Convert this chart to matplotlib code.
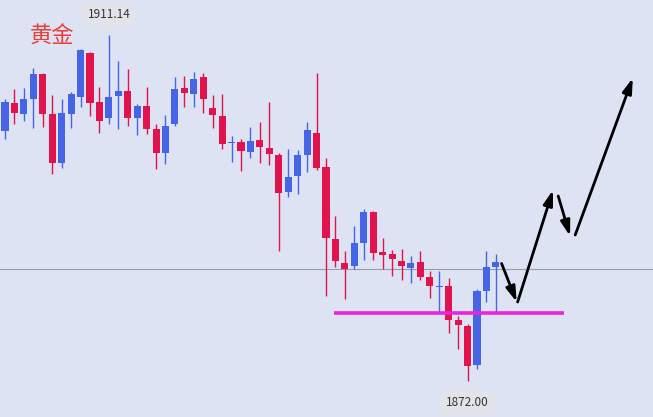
import matplotlib
matplotlib.use("Agg")
import matplotlib.pyplot as plt
import numpy as np

plt.rcParams['font.family'] = ['Noto Sans CJK SC', 'DejaVu Sans']

opens = [1900.28, 1903.45, 1902.20, 1903.90, 1906.73, 1902.20, 1896.66, 1902.20, 1904.13, 1909.10,
         1903.56, 1901.75, 1904.24, 1904.81, 1901.75, 1903.11, 1900.51, 1897.79, 1901.07, 1905.14,
         1904.47, 1906.39, 1902.88, 1901.98, 1898.92, 1899.04, 1897.90, 1899.26, 1898.36, 1897.57,
         1893.38, 1895.19, 1897.57, 1900.05, 1896.21, 1888.06, 1885.35, 1885.01, 1887.61, 1891.12,
         1886.59, 1886.37, 1885.58, 1884.78, 1885.46, 1883.77, 1882.63, 1882.75, 1878.90, 1878.22,
         1873.81, 1882.18, 1884.90]
highs = [1903.90, 1905.03, 1905.14, 1907.41, 1906.80, 1904.35, 1903.90, 1904.69, 1909.56, 1909.22,
         1905.26, 1911.14, 1908.20, 1907.29, 1903.33, 1905.26, 1901.07, 1902.09, 1906.39, 1906.50,
         1906.95, 1906.84, 1904.35, 1904.47, 1899.71, 1899.38, 1900.73, 1901.30, 1903.56, 1897.79,
         1898.24, 1898.13, 1901.30, 1906.84, 1897.23, 1890.67, 1886.71, 1889.53, 1891.46, 1891.23,
         1888.18, 1886.82, 1886.93, 1886.14, 1886.71, 1884.45, 1884.45, 1883.65, 1879.35, 1878.45,
         1882.41, 1886.71, 1886.37]
lows = [1899.38, 1901.07, 1901.41, 1900.62, 1900.73, 1895.42, 1896.10, 1900.62, 1902.99, 1901.98,
        1900.05, 1901.07, 1900.51, 1900.85, 1899.83, 1899.94, 1895.98, 1896.55, 1900.85, 1902.99,
        1902.99, 1902.32, 1900.62, 1898.24, 1896.77, 1895.76, 1897.23, 1896.66, 1896.43, 1886.71,
        1892.81, 1893.16, 1895.64, 1895.87, 1881.62, 1884.90, 1881.28, 1884.67, 1885.69, 1885.69,
        1884.67, 1883.88, 1883.43, 1883.09, 1883.43, 1881.39, 1879.81, 1877.43, 1875.62, 1872.00,
        1873.36, 1880.94, 1879.81]
closes = [1903.56, 1902.32, 1903.90, 1906.73, 1902.20, 1896.66, 1902.32, 1904.47, 1909.44, 1903.45,
          1901.41, 1904.13, 1904.81, 1901.75, 1903.11, 1900.51, 1897.79, 1900.85, 1905.03, 1904.58,
          1906.16, 1903.90, 1902.09, 1898.81, 1899.04, 1898.02, 1899.15, 1898.47, 1897.68, 1893.27,
          1895.08, 1897.57, 1900.39, 1896.10, 1888.18, 1885.58, 1884.67, 1887.61, 1891.12, 1886.48,
          1886.25, 1885.80, 1885.01, 1885.35, 1883.77, 1882.75, 1882.75, 1878.90, 1878.33, 1873.70,
          1882.18, 1884.90, 1885.46]

last_price = 1884.72
support_level = 1879.69
support_range = (34.8, 59.2)

# forecast arrows (start index, start price, end index, end price)
arrow_segments = [
    (52.6, 1885.30, 54.2, 1880.94),
    (54.3, 1880.94, 58.05, 1893.61),
    (58.6, 1892.93, 59.85, 1888.40),
    (60.4, 1888.52, 66.5, 1906.28),
]

title_text = "黄金"
high_label = "1911.14"
low_label = "1872.00"

BG = '#dee3f3'
UP = '#4565e6'
DOWN = '#e0134c'
LABEL_BG = '#e2e4ea'

fig = plt.figure(figsize=(6.53, 4.17), dpi=100, facecolor=BG)
ax = fig.add_axes([0, 0, 1, 1])
ax.set_facecolor(BG)

x = np.arange(len(opens))
o = np.array(opens); c = np.array(closes); h = np.array(highs); l = np.array(lows)
colors = [UP if cc >= oo else DOWN for oo, cc in zip(o, c)]

ax.axhline(last_price, color='#9a9ca6', lw=0.8, zorder=1)

ax.vlines(x, l, h, colors=colors, lw=1.0, zorder=2)
body_bottom = np.minimum(o, c)
body_h = np.maximum(np.abs(c - o), 0.15)
ax.bar(x, body_h, bottom=body_bottom, width=0.75, color=colors, zorder=3, linewidth=0)

ax.hlines(support_level, support_range[0], support_range[1], colors='#ee22dd', lw=2.6, zorder=4)

for x0, y0, x1, y1 in arrow_segments:
    ax.annotate('', xy=(x1, y1), xytext=(x0, y0),
                arrowprops=dict(arrowstyle='-|>,head_length=0.9,head_width=0.28',
                                color='black', lw=2.0, shrinkA=0, shrinkB=0),
                zorder=5)

ax.text(4.95, 1910.95, title_text, color='#e8403a', fontsize=16, ha='center', va='center',
        fontweight='medium')

ihigh = int(np.argmax(h)); ilow = int(np.argmin(l))
ax.text(x[ihigh], h[ihigh] + 2.3, high_label, fontsize=8.5, color='#333333', ha='center', va='center',
        bbox=dict(boxstyle='round,pad=0.45', fc=LABEL_BG, ec='none'), zorder=6)
ax.plot([x[ihigh]], [h[ihigh] + 0.75], marker='v', ms=7, color=LABEL_BG, zorder=5)
ax.text(x[ilow], l[ilow] - 2.4, low_label, fontsize=8.5, color='#333333', ha='center', va='center',
        bbox=dict(boxstyle='round,pad=0.45', fc=LABEL_BG, ec='none'), zorder=6)
ax.plot([x[ilow]], [l[ilow] - 0.8], marker='^', ms=7, color=LABEL_BG, zorder=5)

ax.set_xlim(-0.53, 68.64)
ax.set_ylim(1867.93, 1915.10)
ax.axis('off')

fig.savefig('out.png', dpi=100, facecolor=BG)
